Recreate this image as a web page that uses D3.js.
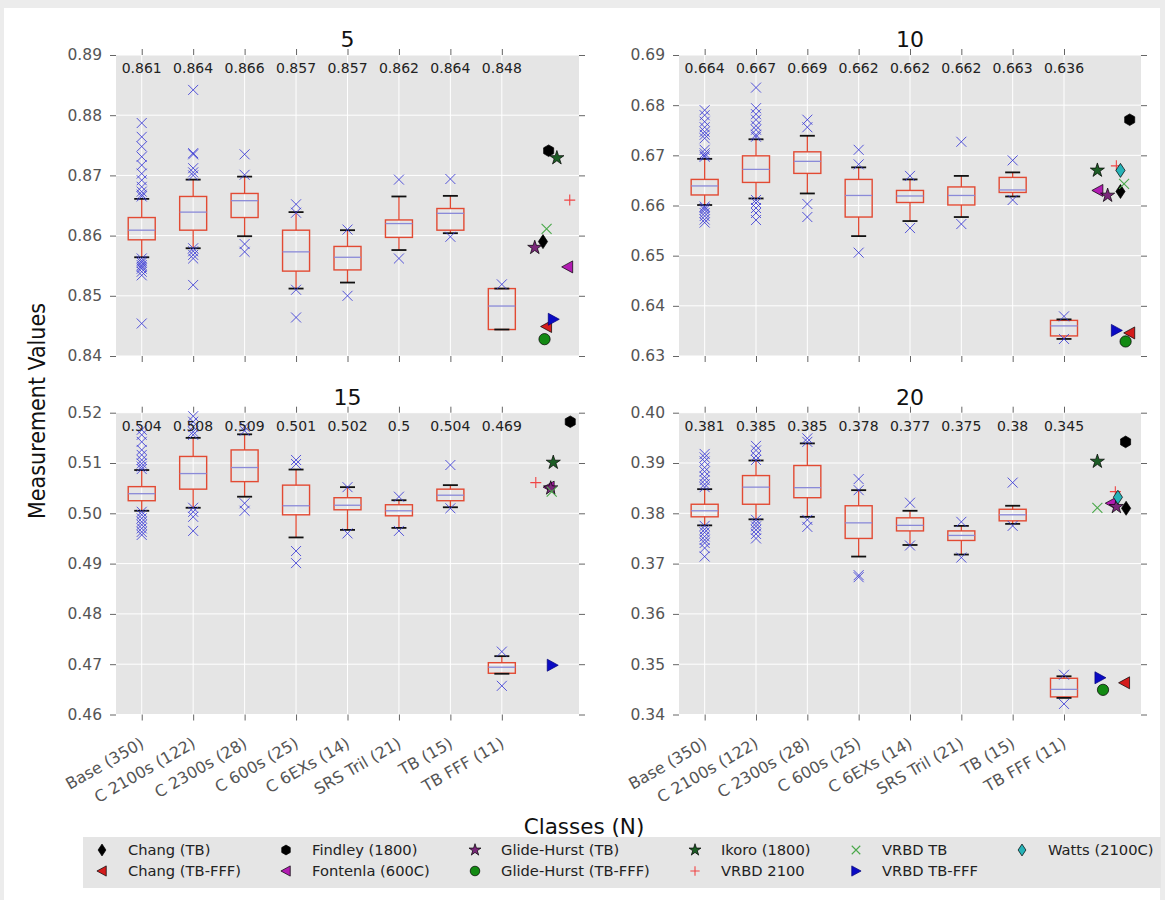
<!DOCTYPE html>
<html><head><meta charset="utf-8">
<script src="https://cdn.jsdelivr.net/npm/d3@7"></script>
<style>
body{margin:0;background:#fff;}
svg{display:block;}
text{font-family:"DejaVu Sans",sans-serif;}
</style>
</head><body>
<svg id="c" width="1165" height="900"></svg>
<script>
// ---------------- DATA ----------------
const categories = ["Base (350)","C 2100s (122)","C 2300s (28)","C 600s (25)","C 6EXs (14)","SRS Tril (21)","TB (15)","TB FFF (11)"];
const panelTitles = ["5","10","15","20"];

// y tick values per panel
const yTicks5  = [0.84,0.85,0.86,0.87,0.88,0.89];
const yTicks10 = [0.63,0.64,0.65,0.66,0.67,0.68,0.69];
const yTicks15 = [0.46,0.47,0.48,0.49,0.50,0.51,0.52];
const yTicks20 = [0.34,0.35,0.36,0.37,0.38,0.39,0.40];

// median labels printed on top of each panel
const medLabels5  = ["0.861","0.864","0.866","0.857","0.857","0.862","0.864","0.848"];
const medLabels10 = ["0.664","0.667","0.669","0.662","0.662","0.662","0.663","0.636"];
const medLabels15 = ["0.504","0.508","0.509","0.501","0.502","0.5","0.504","0.469"];
const medLabels20 = ["0.381","0.385","0.385","0.378","0.377","0.375","0.38","0.345"];

// box statistics (per category)
const q1_5  = [0.8593,0.8609,0.8630,0.8541,0.8543,0.8597,0.8609,0.8444];
const med5  = [0.8609,0.8639,0.8658,0.8573,0.8564,0.8620,0.8637,0.8483];
const q3_5  = [0.8630,0.8665,0.8670,0.8609,0.8582,0.8626,0.8645,0.8512];
const wlo5  = [0.8564,0.8579,0.8599,0.8512,0.8522,0.8576,0.8604,0.8444];
const whi5  = [0.8661,0.8693,0.8698,0.8639,0.8609,0.8665,0.8666,0.8512];
const out5  = [
  [0.8787,0.8764,0.8748,0.8731,0.8717,0.8703,0.8692,0.8681,0.8673,0.8668,0.8665,0.8562,0.8558,0.8555,0.8551,0.8548,0.8545,0.8540,0.8534,0.8454],
  [0.8842,0.8737,0.8735,0.8712,0.8705,0.8700,0.8579,0.8574,0.8568,0.8562,0.8518],
  [0.8735,0.8701,0.8586,0.8573],
  [0.8652,0.8638,0.8510,0.8464],
  [0.8610,0.8500],
  [0.8693,0.8562],
  [0.8694,0.8598],
  [0.8519]
];

const q1_10 = [0.6621,0.6646,0.6664,0.6577,0.6606,0.6601,0.6626,0.6340];
const med10 = [0.6639,0.6672,0.6688,0.6620,0.6619,0.6620,0.6631,0.6360];
const q3_10 = [0.6652,0.6699,0.6707,0.6652,0.6630,0.6637,0.6656,0.6371];
const wlo10 = [0.6601,0.6614,0.6624,0.6539,0.6569,0.6577,0.6618,0.6334];
const whi10 = [0.6693,0.6732,0.6739,0.6676,0.6652,0.6659,0.6666,0.6373];
const out10 = [
  [0.6790,0.6780,0.6767,0.6756,0.6747,0.6741,0.6734,0.6711,0.6704,0.6700,0.6697,0.6598,0.6595,0.6591,0.6585,0.6579,0.6572,0.6566],
  [0.6835,0.6794,0.6782,0.6771,0.6759,0.6751,0.6741,0.6737,0.6611,0.6605,0.6595,0.6585,0.6571],
  [0.6771,0.6756,0.6603,0.6577],
  [0.6711,0.6682,0.6506],
  [0.6659,0.6555],
  [0.6727,0.6563],
  [0.6690,0.6611],
  [0.6379,0.6334]
];

const q1_15 = [0.5025,0.5048,0.5063,0.4997,0.5007,0.4995,0.5025,0.4682];
const med15 = [0.5039,0.5079,0.5091,0.5015,0.5016,0.5005,0.5036,0.4694];
const q3_15 = [0.5053,0.5113,0.5126,0.5056,0.5031,0.5017,0.5048,0.4703];
const wlo15 = [0.5005,0.5011,0.5033,0.4952,0.4967,0.4971,0.5012,0.4681];
const whi15 = [0.5086,0.5150,0.5157,0.5087,0.5052,0.5026,0.5056,0.4716];
const out15 = [
  [0.5166,0.5156,0.5142,0.5126,0.5116,0.5106,0.5099,0.5093,0.5088,0.5003,0.4997,0.4990,0.4983,0.4977,0.4970,0.4963,0.4957],
  [0.5193,0.5182,0.5172,0.5162,0.5156,0.5011,0.5003,0.4993,0.4965],
  [0.5172,0.5164,0.5020,0.5005],
  [0.5106,0.5098,0.4925,0.4901],
  [0.5052,0.4960],
  [0.5033,0.4965],
  [0.5096,0.5010],
  [0.4725,0.4657]
];

const q1_20 = [0.3793,0.3818,0.3831,0.3750,0.3765,0.3746,0.3785,0.3435];
const med20 = [0.3805,0.3852,0.3851,0.3781,0.3776,0.3756,0.3797,0.3450];
const q3_20 = [0.3818,0.3875,0.3895,0.3815,0.3791,0.3765,0.3808,0.3472];
const wlo20 = [0.3776,0.3788,0.3793,0.3714,0.3737,0.3718,0.3779,0.3433];
const whi20 = [0.3848,0.3905,0.3939,0.3846,0.3805,0.3775,0.3815,0.3476];
const out20 = [
  [0.3918,0.3911,0.3903,0.3891,0.3883,0.3873,0.3866,0.3858,0.3852,0.3775,0.3768,0.3762,0.3754,0.3747,0.3741,0.3731,0.3714],
  [0.3934,0.3925,0.3914,0.3906,0.3787,0.3780,0.3774,0.3767,0.3759,0.3750],
  [0.3949,0.3942,0.3787,0.3773],
  [0.3868,0.3846,0.3677,0.3673],
  [0.3821,0.3736],
  [0.3783,0.3712],
  [0.3861,0.3775],
  [0.3479,0.3421]
];

// reference studies
const refNames = ["Chang (TB)","Chang (TB-FFF)","Findley (1800)","Fontenla (600C)","Glide-Hurst (TB)","Glide-Hurst (TB-FFF)","Ikoro (1800)","VRBD 2100","VRBD TB","VRBD TB-FFF","Watts (2100C)"];
const ref5   = [0.8590,0.8449,0.8741,0.8548,0.8580,0.8428,0.8729,0.8659,0.8611,0.8461,null];
const refX5  = [8.80,8.87,8.91,9.28,8.64,8.83,9.07,9.32,8.87,9.00,null];
const ref10  = [0.6628,0.6346,0.6771,0.6630,0.6620,0.6329,0.6670,0.6679,0.6643,0.6351,0.6670];
const refX10 = [9.10,9.28,9.28,8.66,8.85,9.20,8.65,9.02,9.17,9.02,9.10];
const ref15  = [null,null,0.5182,0.5052,0.5050,null,0.5101,0.5061,0.5043,0.4698,null];
const refX15 = [null,null,9.33,8.92,8.95,null,9.00,8.66,8.97,8.98,null];
const ref20  = [0.3810,0.3463,0.3942,0.3820,0.3813,0.3449,0.3903,0.3843,0.3811,0.3473,0.3832];
const refX20 = [9.21,9.18,9.20,8.92,9.02,8.76,8.65,9.00,8.65,8.70,9.05];

// ---------------- STYLE / LAYOUT ----------------
const svg = d3.select("#c");
const BG = "#E5E5E5", BOX = "#E24A33", MED = "#8a8ad8", OUT = "#3b3bd6", TXT = "#555";

// outer frame (screenshot border)
svg.append("rect").attr("x",0).attr("y",0).attr("width",1165).attr("height",900).attr("fill","#ececec");
svg.append("rect").attr("x",4).attr("y",8).attr("width",1156).attr("height",892).attr("fill","#fff");

const markerStyle = {
  "Chang (TB)":          {shape:"thin_diamond", fill:"#000", stroke:"#000"},
  "Chang (TB-FFF)":      {shape:"tri_left", fill:"#d41c1c", stroke:"#000"},
  "Findley (1800)":      {shape:"hexagon", fill:"#000", stroke:"#000"},
  "Fontenla (600C)":     {shape:"tri_left", fill:"#b21cb2", stroke:"#000"},
  "Glide-Hurst (TB)":    {shape:"star", fill:"#7a287a", stroke:"#000"},
  "Glide-Hurst (TB-FFF)":{shape:"circle", fill:"#138a13", stroke:"#000"},
  "Ikoro (1800)":        {shape:"star", fill:"#1d5e26", stroke:"#000"},
  "VRBD 2100":           {shape:"plus", fill:"none", stroke:"#f04545"},
  "VRBD TB":             {shape:"x", fill:"none", stroke:"#4aa84a"},
  "VRBD TB-FFF":         {shape:"tri_right", fill:"#0b0bc4", stroke:"#00007a"},
  "Watts (2100C)":       {shape:"thin_diamond", fill:"#26b3b8", stroke:"#000"}
};

function shapePath(shape, s){
  s = s || 1;
  switch(shape){
    case "thin_diamond": return `M0,${-7*s}L${4.6*s},0L0,${7*s}L${-4.6*s},0Z`;
    case "tri_left": return `M${-6*s},0L${5*s},${-6*s}L${5*s},${6*s}Z`;
    case "tri_right": return `M${6*s},0L${-5*s},${-6*s}L${-5*s},${6*s}Z`;
    case "hexagon": {
      const pts=[]; for(let k=0;k<6;k++){const a=Math.PI/6+k*Math.PI/3; pts.push([5.8*s*Math.cos(a),5.8*s*Math.sin(a)]);}
      return "M"+pts.map(p=>p.join(",")).join("L")+"Z";
    }
    case "star": return d3.symbol().type(d3.symbolStar).size(62*s*s)();
    case "circle": return d3.symbol().type(d3.symbolCircle).size(100*s*s)();
    case "plus": return `M${-5.5*s},0H${5.5*s}M0,${-5.5*s}V${5.5*s}`;
    case "x": return `M${-5*s},${-5*s}L${5*s},${5*s}M${-5*s},${5*s}L${5*s},${-5*s}`;
  }
}
function drawMarker(g, name, cx, cy, s){
  const st = markerStyle[name];
  const line = (st.shape==="plus"||st.shape==="x");
  g.append("path").attr("d", shapePath(st.shape, s))
    .attr("transform",`translate(${cx},${cy})`)
    .attr("fill", line ? "none" : st.fill)
    .attr("stroke", st.stroke)
    .attr("stroke-width", line ? 1.1 : 0.7);
}

const panels = [
  {title:panelTitles[0], x0:116, x1:579, y0:55,    y1:356,   ticks:yTicks5,  labels:medLabels5,  q1:q1_5,  med:med5,  q3:q3_5,  wlo:wlo5,  whi:whi5,  out:out5,  ref:ref5,  refX:refX5,  xlab:false},
  {title:panelTitles[1], x0:679, x1:1141,y0:55,    y1:356,   ticks:yTicks10, labels:medLabels10, q1:q1_10, med:med10, q3:q3_10, wlo:wlo10, whi:whi10, out:out10, ref:ref10, refX:refX10, xlab:false},
  {title:panelTitles[2], x0:116, x1:579, y0:412.7, y1:714.5, ticks:yTicks15, labels:medLabels15, q1:q1_15, med:med15, q3:q3_15, wlo:wlo15, whi:whi15, out:out15, ref:ref15, refX:refX15, xlab:true},
  {title:panelTitles[3], x0:679, x1:1141,y0:412.7, y1:714.5, ticks:yTicks20, labels:medLabels20, q1:q1_20, med:med20, q3:q3_20, wlo:wlo20, whi:whi20, out:out20, ref:ref20, refX:refX20, xlab:true}
];

panels.forEach(p=>{
  const g = svg.append("g");
  const x = d3.scaleLinear().domain([0.5,9.5]).range([p.x0,p.x1]);
  const y = d3.scaleLinear().domain([p.ticks[0], p.ticks[p.ticks.length-1]]).range([p.y1,p.y0]);
  const catIdx = categories.map((c,i)=>i+1);

  g.append("rect").attr("x",p.x0).attr("y",p.y0).attr("width",p.x1-p.x0).attr("height",p.y1-p.y0).attr("fill",BG);
  // grid
  g.selectAll(".gy").data(p.ticks).enter().append("line")
    .attr("x1",p.x0).attr("x2",p.x1).attr("y1",d=>y(d)).attr("y2",d=>y(d))
    .attr("stroke","#fff").attr("stroke-width",1);
  g.selectAll(".gx").data(catIdx).enter().append("line")
    .attr("x1",d=>x(d)).attr("x2",d=>x(d)).attr("y1",p.y0).attr("y2",p.y1)
    .attr("stroke","#fff").attr("stroke-width",1);

  // axes
  const styleAxis = a => { a.select(".domain").remove(); a.selectAll("line").attr("stroke","#666"); a.selectAll("text").attr("fill",TXT).style("font-size","15.5px"); };
  g.append("g").attr("transform",`translate(${p.x0},0)`)
    .call(d3.axisLeft(y).tickValues(p.ticks).tickFormat(d3.format(".2f")).tickSize(6).tickPadding(8)).call(styleAxis);
  g.append("g").attr("transform",`translate(${p.x1},0)`)
    .call(d3.axisRight(y).tickValues(p.ticks).tickFormat("").tickSize(6)).call(styleAxis);
  g.append("g").attr("transform",`translate(0,${p.y0})`)
    .call(d3.axisTop(x).tickValues(catIdx).tickFormat("").tickSize(6)).call(styleAxis);
  const bot = g.append("g").attr("transform",`translate(0,${p.y1})`)
    .call(d3.axisBottom(x).tickValues(catIdx).tickFormat(d=> p.xlab ? categories[d-1] : "").tickSize(6)).call(styleAxis);
  if(p.xlab){
    bot.selectAll("text").attr("text-anchor","end").attr("dy",null).attr("y",null)
      .attr("transform","translate(3,32) rotate(-30)").style("font-size","16px");
  }

  // boxes
  const bw = 27, cw = 15;
  catIdx.forEach((c,i)=>{
    const cx = x(c);
    g.append("line").attr("x1",cx).attr("x2",cx).attr("y1",y(p.q3[i])).attr("y2",y(p.whi[i])).attr("stroke",BOX).attr("stroke-width",1.3);
    g.append("line").attr("x1",cx).attr("x2",cx).attr("y1",y(p.q1[i])).attr("y2",y(p.wlo[i])).attr("stroke",BOX).attr("stroke-width",1.3);
    g.append("rect").attr("x",cx-bw/2).attr("y",y(p.q3[i])).attr("width",bw).attr("height",y(p.q1[i])-y(p.q3[i]))
      .attr("fill","none").attr("stroke",BOX).attr("stroke-width",1.4);
    g.append("line").attr("x1",cx-bw/2).attr("x2",cx+bw/2).attr("y1",y(p.med[i])).attr("y2",y(p.med[i])).attr("stroke",MED).attr("stroke-width",1.3);
    [p.whi[i],p.wlo[i]].forEach(v=>{
      g.append("line").attr("x1",cx-cw/2).attr("x2",cx+cw/2).attr("y1",y(v)).attr("y2",y(v)).attr("stroke","#111").attr("stroke-width",1.8);
    });
    p.out[i].forEach(v=>{
      g.append("path").attr("d","M-5,-5L5,5M-5,5L5,-5").attr("transform",`translate(${cx},${y(v)})`)
        .attr("stroke",OUT).attr("stroke-width",1).attr("fill","none").attr("opacity",0.85);
    });
    g.append("text").attr("x",cx).attr("y",p.y0+18).attr("text-anchor","middle")
      .style("font-size","14px").attr("fill","#222").text(p.labels[i]);
  });

  // references
  refNames.forEach((n,k)=>{
    if(p.ref[k]==null) return;
    drawMarker(g, n, x(p.refX[k]), y(p.ref[k]), 1);
  });

  g.append("text").attr("x",(p.x0+p.x1)/2).attr("y",p.y0-8).attr("text-anchor","middle")
    .style("font-size","22px").attr("fill","#111").text(p.title);
});

// axis titles
svg.append("text").attr("transform","translate(45,411) rotate(-90)").attr("text-anchor","middle")
  .style("font-family","'Liberation Sans Narrow','DejaVu Sans Condensed',sans-serif").style("font-size","23px").attr("fill","#111").text("Measurement Values");
svg.append("text").attr("x",584).attr("y",834).attr("text-anchor","middle")
  .style("font-size","21.5px").attr("fill","#111").text("Classes (N)");

// legend
const lg = svg.append("g");
lg.append("rect").attr("x",83).attr("y",837).attr("width",1078).attr("height",51).attr("fill",BG);
const colTextX = [128, 312, 501, 721, 882, 1048];
const rowY = [850, 871];
refNames.forEach((n,k)=>{
  const col = Math.floor(k/2), row = k%2;
  drawMarker(lg, n, colTextX[col]-26, rowY[row], 0.85);
  lg.append("text").attr("x",colTextX[col]).attr("y",rowY[row]+5).style("font-size","14.7px").attr("fill","#222").text(n);
});
</script>
</body></html>
